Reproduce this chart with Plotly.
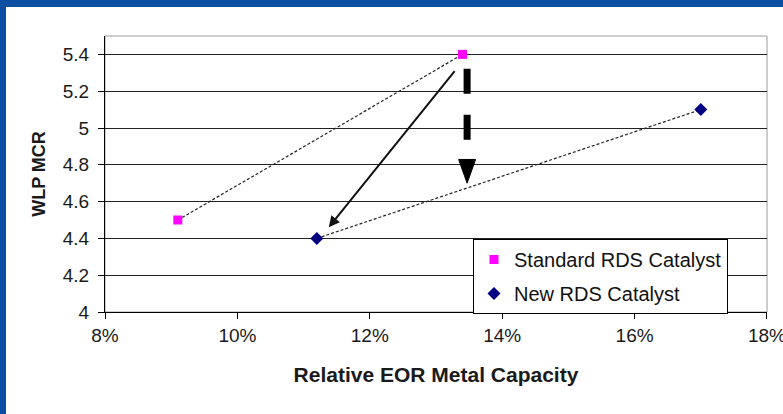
import plotly.graph_objects as go

# Catalyst performance data
standard_capacity = [0.091, 0.134]
standard_mcr = [4.5, 5.4]
new_capacity = [0.112, 0.170]
new_mcr = [4.4, 5.1]

series_names = ["Standard RDS Catalyst", "New RDS Catalyst"]
x_tick_values = [0.08, 0.10, 0.12, 0.14, 0.16, 0.18]
y_tick_values = [4, 4.2, 4.4, 4.6, 4.8, 5, 5.2, 5.4]

# Annotation arrows (data coordinates)
shift_arrow_start = (0.1330, 5.317)
shift_arrow_end = (0.1138, 4.46)
drop_arrow_x = 0.1347
drop_arrow_top = 5.322
drop_arrow_head_base = 4.829
drop_arrow_tip = 4.70
drop_arrow_half_width = 0.00128

FONT = "Liberation Sans, Arial, sans-serif"
PINK = "#FF00FF"
NAVY = "#000080"
BLUE = "#0B4FA3"

fig = go.Figure()

# connecting dashed lines
for xs, ys in [(standard_capacity, standard_mcr), (new_capacity, new_mcr)]:
    fig.add_trace(go.Scatter(
        x=xs, y=ys, mode="lines", showlegend=False, hoverinfo="skip",
        line=dict(color="#222222", width=1.2, dash="3px,2px"),
    ))

fig.add_trace(go.Scatter(
    x=standard_capacity, y=standard_mcr, mode="markers", name=series_names[0],
    legendgroup="a",
    marker=dict(symbol="square", size=9, color=PINK),
))
fig.add_trace(go.Scatter(
    x=new_capacity, y=new_mcr, mode="markers", name=series_names[1],
    legendgroup="b",
    marker=dict(symbol="diamond", size=10, color=NAVY),
))

# solid shift arrow
fig.add_annotation(
    x=shift_arrow_end[0], y=shift_arrow_end[1],
    ax=shift_arrow_start[0], ay=shift_arrow_start[1],
    xref="x", yref="y", axref="x", ayref="y",
    showarrow=True, arrowhead=2, arrowsize=1.1, arrowwidth=2,
    arrowcolor="#111111", text="",
)

shapes = [
    # plot frame
    dict(type="rect", xref="paper", yref="paper", x0=0, x1=1, y0=0, y1=1,
         line=dict(color="#9a9a9a", width=1), layer="below"),
    # thick dashed drop arrow
    dict(type="line", xref="x", yref="y",
         x0=drop_arrow_x, x1=drop_arrow_x, y0=drop_arrow_top, y1=drop_arrow_head_base,
         line=dict(color="#000000", width=7, dash="25px,21px")),
    dict(type="path", xref="x", yref="y",
         path=(f"M {drop_arrow_x - drop_arrow_half_width},{drop_arrow_head_base} "
               f"L {drop_arrow_x + drop_arrow_half_width},{drop_arrow_head_base} "
               f"L {drop_arrow_x},{drop_arrow_tip} Z"),
         fillcolor="#000000", line=dict(color="#000000", width=1)),
    # slide border
    dict(type="rect", xref="paper", yref="paper",
         x0=-105 / 662, x1=-99 / 662, y0=-102 / 276, y1=312 / 276,
         fillcolor=BLUE, line=dict(width=0)),
    dict(type="rect", xref="paper", yref="paper",
         x0=-105 / 662, x1=678 / 662, y0=305 / 276, y1=312 / 276,
         fillcolor=BLUE, line=dict(width=0)),
]

fig.update_layout(
    width=783, height=414,
    margin=dict(l=105, r=16, t=36, b=102),
    paper_bgcolor="white", plot_bgcolor="white",
    font=dict(family=FONT, color="#1a1a1a"),
    shapes=shapes,
    showlegend=True,
    legend=dict(
        x=368 / 662, y=73 / 276, xanchor="left", yanchor="top",
        bgcolor="white", bordercolor="#000000", borderwidth=1,
        font=dict(family=FONT, size=20, color="#111111"),
        itemwidth=30, traceorder="grouped", tracegroupgap=5,
    ),
    xaxis=dict(
        range=[0.08, 0.180001], tickvals=x_tick_values, tickformat=".0%",
        ticklabeloverflow="allow", automargin=False,
        showgrid=False, zeroline=False,
        showline=True, linecolor="#000000", linewidth=1,
        ticks="outside", ticklen=6, tickcolor="#000000",
        tickfont=dict(size=19, family=FONT),
        title=dict(text="<b>Relative EOR Metal Capacity</b>",
                   font=dict(size=21, family=FONT), standoff=22),
    ),
    yaxis=dict(
        range=[4, 5.5], tickvals=y_tick_values,
        showgrid=True, gridcolor="#222222", gridwidth=1, zeroline=False,
        showline=True, linecolor="#000000", linewidth=1,
        ticks="outside", ticklen=6, tickcolor="#000000",
        ticklabelstandoff=5,
        tickfont=dict(size=19, family=FONT),
        title=dict(text="<b>WLP MCR</b>",
                   font=dict(size=18, family=FONT), standoff=12),
    ),
)

fig.write_html("out.html")
